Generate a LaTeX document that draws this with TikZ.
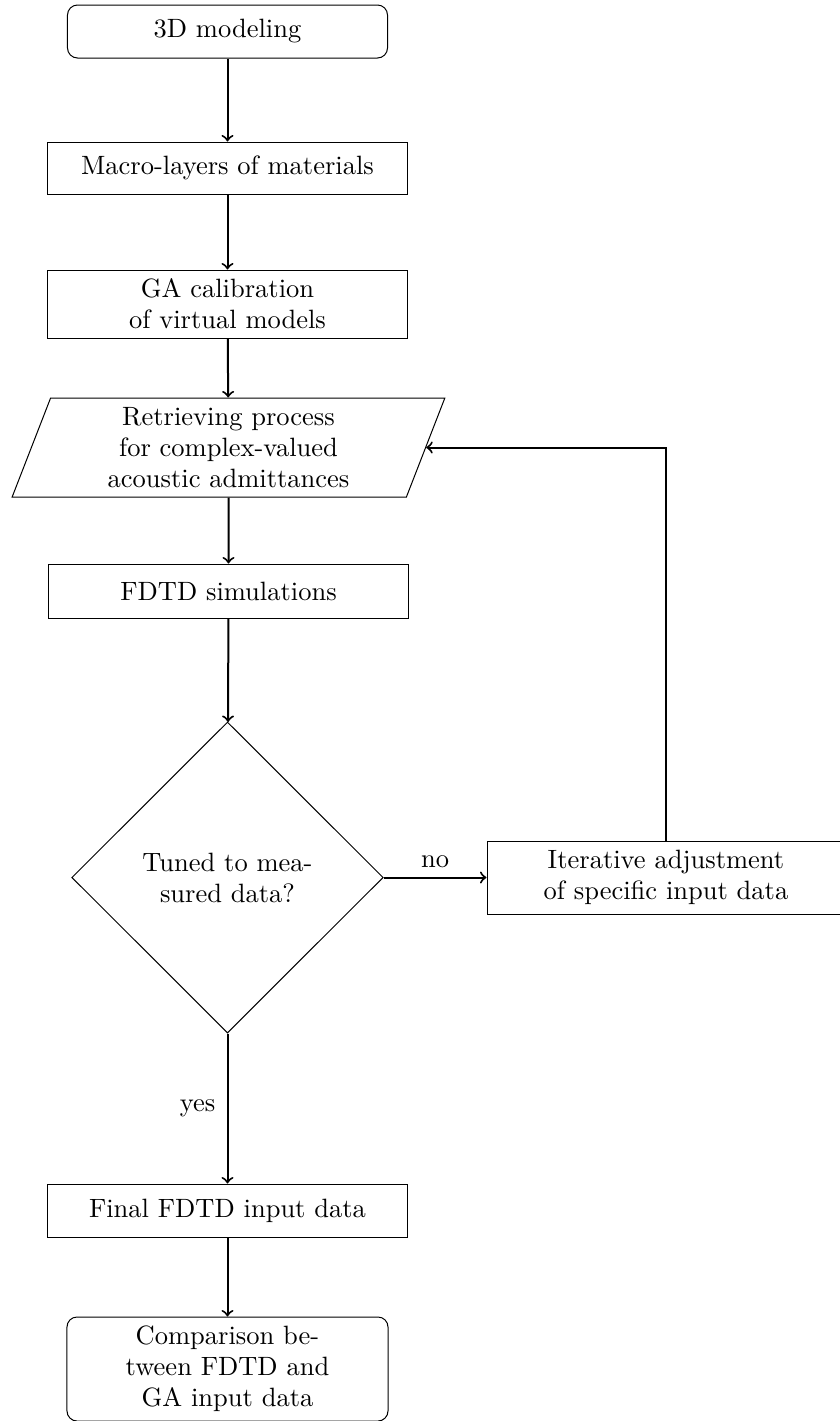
\documentclass[tikz,border=0pt]{standalone}
\usetikzlibrary{shapes.geometric}
\begin{document}
\begin{tikzpicture}[x=0.4pt,y=-0.4pt,
  font=\fontsize{10.6}{12.4}\selectfont,
  box/.style={draw, line width=0.4pt, inner sep=0pt, align=center},
  rbox/.style={box, rounded corners=4pt},
  conn/.style={->, line width=0.8pt},
  lbl/.style={inner sep=0pt}]
\useasboundingbox (0,0) rectangle (840,1421);
\clip (0,0) rectangle (840,1421);
\node[rbox, minimum width=128pt, minimum height=21.2pt] (start) at (227.5,31.5) {3D modeling};
\node[box, minimum width=143.6pt, minimum height=20.8pt] (macro) at (227.5,168) {Macro-layers of materials};
\node[box, minimum width=143.6pt, minimum height=27.2pt] (ga) at (227.5,304) {GA calibration\\of virtual models};
\node[box, trapezium, trapezium left angle=72, trapezium right angle=108, trapezium stretches=true, minimum width=173.2pt, minimum height=39.6pt] (retr) at (228.5,447.5) {Retrieving process\\for complex-valued\\acoustic admittances};
\node[box, minimum width=143.6pt, minimum height=21.6pt] (fdtd) at (228.5,591) {FDTD simulations};
\node[box, diamond, minimum width=124.6pt, minimum height=124.4pt] (dec) at (227.5,877.5) {Tuned to mea-\\sured data?};
\node[box, minimum width=143.2pt, minimum height=29.2pt] (iter) at (666,877.5) {Iterative adjustment\\of specific input data};
\node[box, minimum width=143.6pt, minimum height=21.2pt] (final) at (227.5,1210.5) {Final FDTD input data};
\node[rbox, minimum width=128.4pt, minimum height=41.6pt] (comp) at (227.5,1369) {Comparison be-\\tween FDTD and\\GA input data};
\draw[conn] (start) -- (macro);
\draw[conn] (macro) -- (ga);
\draw[conn] (ga) -- (retr);
\draw[conn] (retr) -- (fdtd);
\draw[conn] (fdtd) -- (dec);
\draw[conn] (dec.east) -- node[lbl, above=3.5pt] (no) {no} (iter.west);
\draw[conn] (dec.south) -- node[lbl, left=4.5pt] (yes) {yes} (final.north);
\draw[conn] (final) -- (comp);
\draw[conn] (iter.north) |- (retr.east);
\end{tikzpicture}
\end{document}
